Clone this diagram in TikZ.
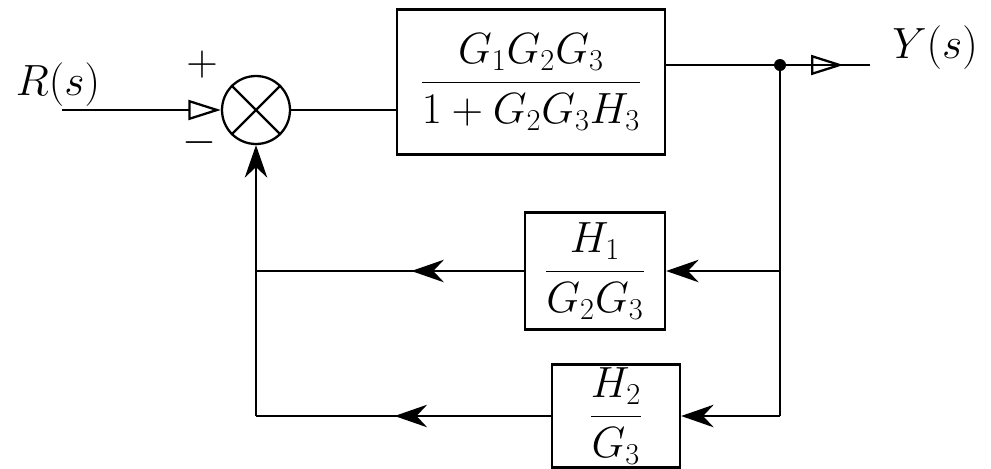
\documentclass[tikz,border=0pt]{standalone}
\usepackage{amsmath}
\usetikzlibrary{arrows.meta,decorations.markings}
\begin{document}
\begin{tikzpicture}[x=0.02cm, y=-0.02cm, line width=1.3pt,
      font=\fontsize{26}{30}\selectfont,
      block/.style={rectangle, draw, inner sep=2pt},
      sumnode/.style={circle, draw, minimum size=1.36cm, inner sep=0pt},
      tip/.style={-{Stealth[length=6.5mm,width=4.5mm]}},
      midarrow/.style={postaction={decorate}, decoration={markings,
                       mark=at position #1 with {\arrow{Stealth[length=6.5mm,width=4.5mm]}}}},
      midopen/.style={postaction={decorate}, decoration={markings,
                       mark=at position #1 with {\arrow{Triangle[open,length=6.5mm,width=4mm]}}}}]
      \useasboundingbox (0,0) rectangle (991,468);

      % forward path
      \node[sumnode] (sum) at (256,110) {};
      \draw (sum.north east) -- (sum.south west);
      \draw (sum.north west) -- (sum.south east);
      \node[block, minimum width=5.36cm, minimum height=2.9cm] (big) at (531,82)
            {$\dfrac{G_1G_2G_3}{1+G_2G_3H_3}$};
      \node (rlabel) at (58,85) {$R(s)$};
      \node (plus) at (202,65) {$+$};
      \node (minus) at (199,143) {$-$};
      \coordinate (rin) at (62,110);
      \draw[-{Triangle[open,length=6.5mm,width=4mm]}] (rin) -- (sum.west);
      \draw (sum.east) -- (big.west |- sum.east);

      % output and pick-off point
      \coordinate (dot) at (780,65);
      \coordinate (yout) at (870,65);
      \node (ylabel) at (935,48) {$Y(s)$};
      \draw[midopen=0.87] (big.east |- dot) -- (yout);
      \fill (dot) circle (6);

      % feedback blocks
      \node[block, minimum width=2.8cm, minimum height=2.34cm] (hone) at (595,271)
            {$\dfrac{H_1}{G_2G_3}$};
      \node[block, minimum width=2.56cm, minimum height=1.94cm] (htwo) at (616,416)
            {$\dfrac{H_2}{G_3}$};
      \coordinate (rb) at (dot |- htwo.east);
      \coordinate (lb) at (sum.south |- htwo.west);

      \draw (dot) -- (rb);
      \draw[tip] (dot |- hone.east) -- (hone.east);
      \draw[tip] (rb) -- (htwo.east);
      \draw[midarrow=0.42] (hone.west) -- (hone.west -| lb);
      \draw[midarrow=0.53] (htwo.west) -- (lb);
      \draw[tip] (lb) -- (sum.south);
    \end{tikzpicture}
\end{document}
